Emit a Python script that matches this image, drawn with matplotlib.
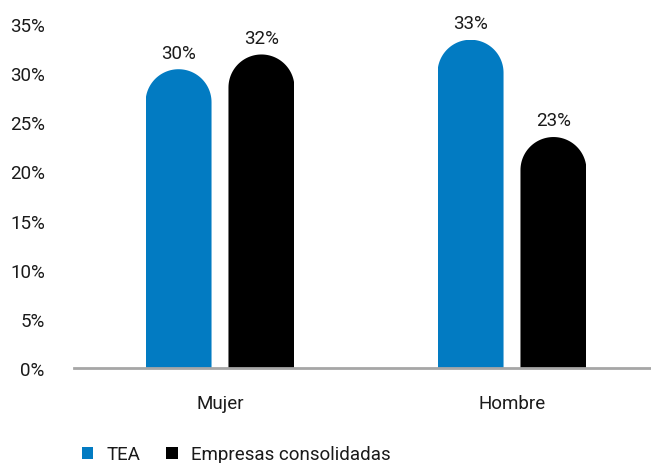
import matplotlib
matplotlib.use("Agg")
import matplotlib.pyplot as plt
from matplotlib.patches import Patch
from matplotlib.path import Path
import numpy as np

categories = ["Mujer", "Hombre"]
series_names = ["TEA", "Empresas consolidadas"]
tea = [30.4, 33.4]
consolidadas = [31.9, 23.5]
labels_tea = ["30%", "33%"]
labels_cons = ["32%", "23%"]
yticks = [0, 5, 10, 15, 20, 25, 30, 35]

colors = ["#027BC2", "#000000"]

plt.rcParams['font.family'] = ['Roboto', 'DejaVu Sans']
FS = 13.5
TXT = '#1a1a1a'

W, H = 651, 464
fig = plt.figure(figsize=(W/100, H/100), dpi=100)
ax = fig.add_axes([74/W, 1-369/H, 1-74/W, (369-25)/H])
ax.set_ylim(0, 35)
xlim = (-0.5, 1.476)
ax.set_xlim(*xlim)

x = np.arange(len(categories))
bw = 0.226
gap = 0.058
offsets = [-(bw+gap)/2, (bw+gap)/2]

ax_h_px = 369-25
ax_w_px = W-74
px_per_y = ax_h_px/35.0
px_per_x = ax_w_px/(xlim[1]-xlim[0])
r_px = bw*px_per_x/2
r_y = r_px/px_per_y

for vals, labs, off, col in [(tea, labels_tea, offsets[0], colors[0]),
                             (consolidadas, labels_cons, offsets[1], colors[1])]:
    xs = x + off
    bars = ax.bar(xs, vals, width=bw, color=col, linewidth=0, zorder=2)
    for b, xi, v, lab in zip(bars, xs, vals, labs):
        t = np.linspace(0, np.pi, 60)
        arc = np.column_stack([xi + (bw/2)*np.cos(t), v - r_y + r_y*np.sin(t)])
        verts = np.vstack([[xi + bw/2, -1], arc, [xi - bw/2, -1], [xi + bw/2, -1]])
        clip = Path(verts, closed=True)
        b.set_clip_path(clip, ax.transData)
        ax.annotate(lab, (xi, v), xytext=(0, 5.5), textcoords='offset points',
                    ha='center', va='bottom', fontsize=FS, color=TXT)

for s in ['top', 'right', 'left']:
    ax.spines[s].set_visible(False)
ax.spines['bottom'].set_color('#a6a6a6')
ax.spines['bottom'].set_linewidth(2)
ax.spines['bottom'].set_zorder(3)

ax.set_yticks(yticks)
ax.set_yticklabels([f"{t}%" for t in yticks], fontsize=FS, color=TXT)
ax.tick_params(axis='y', length=0, pad=21)
ax.set_xticks(x)
ax.set_xticklabels(categories, fontsize=FS, color=TXT)
ax.tick_params(axis='x', length=0, pad=18.5)

handles = [Patch(facecolor=c, edgecolor='none') for c in colors]
fig.legend(handles, series_names, loc='lower left', bbox_to_anchor=(65/W, -0.037),
           ncol=2, frameon=False, fontsize=FS, handlelength=0.6, handleheight=0.6,
           handletextpad=0.7, columnspacing=1.4, labelcolor=TXT)

fig.savefig("out.png", dpi=100)
